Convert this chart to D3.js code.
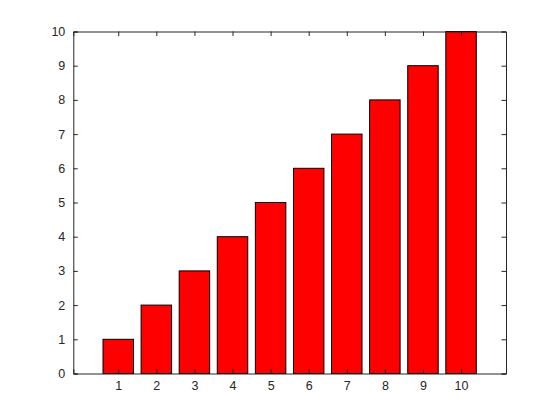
<!DOCTYPE html>
<html><head><meta charset="utf-8">
<script src="https://cdn.jsdelivr.net/npm/d3@7"></script>
<style>body{margin:0;background:#fff}svg{display:block}</style>
</head><body>
<script>
const categories = [1,2,3,4,5,6,7,8,9,10];
const values = [1,2,3,4,5,6,7,8,9,10];
const yTicks = [0,1,2,3,4,5,6,7,8,9,10];

const W = 560, H = 420;
const L = 73.3, R = 506, T = 31.5, B = 373.5;
const svg = d3.select("body").append("svg").attr("width", W).attr("height", H);
svg.append("rect").attr("width", W).attr("height", H).attr("fill", "#fff");

const x = d3.scaleLinear().domain([-0.18, 11.18]).range([L, R]);
const y = d3.scaleLinear().domain([0, 10]).range([B, T]);
const bw = 0.8;

svg.append("g").selectAll("rect").data(categories).join("rect")
  .attr("x", (d) => x(d - bw/2))
  .attr("width", (d) => x(d + bw/2) - x(d - bw/2))
  .attr("y", (d, i) => y(values[i]))
  .attr("height", (d, i) => y(0) - y(values[i]))
  .attr("fill", "#ff0000").attr("stroke", "#000").attr("stroke-width", 1);

const col = "#262626";
const font = "Liberation Sans, Arial, sans-serif";
const tl = 4.5;

const ax = svg.append("g");
ax.append("g").attr("transform", `translate(0,${B})`)
  .call(d3.axisBottom(x).tickValues(categories).tickSize(-tl).tickPadding(8).tickFormat(d3.format("d")));
ax.append("g").attr("transform", `translate(0,${T})`)
  .call(d3.axisTop(x).tickValues(categories).tickSize(-tl).tickFormat(""));
ax.append("g").attr("transform", `translate(${L},0)`)
  .call(d3.axisLeft(y).tickValues(yTicks).tickSize(-tl).tickPadding(8).tickFormat(d3.format("d")));
ax.append("g").attr("transform", `translate(${R},0)`)
  .call(d3.axisRight(y).tickValues(yTicks).tickSize(-tl).tickFormat(""));
ax.selectAll(".domain").attr("stroke", col).attr("stroke-width", 1);
ax.selectAll(".tick line").attr("stroke", col);
ax.selectAll("text").attr("fill", col).style("font-family", font).style("font-size", "12.5px");
</script>
</body></html>
